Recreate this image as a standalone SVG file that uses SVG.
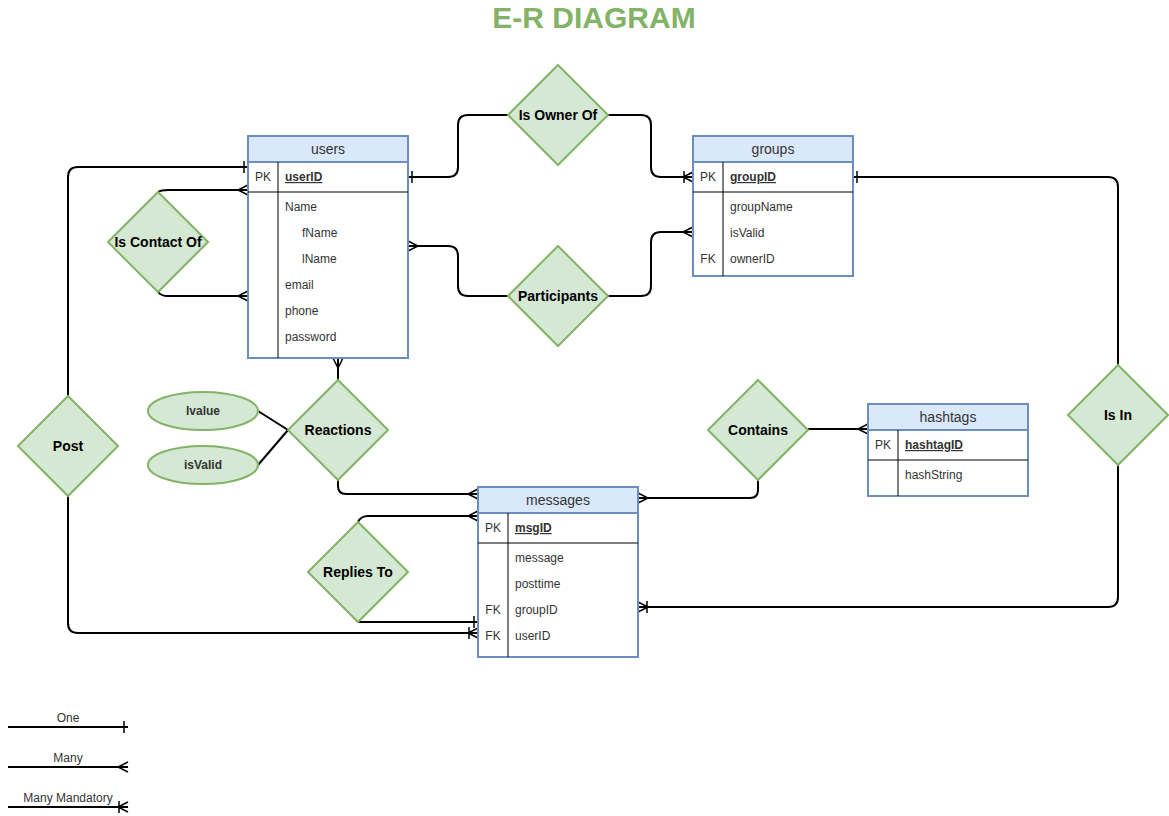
<svg xmlns="http://www.w3.org/2000/svg" width="1169" height="816" viewBox="0 0 1169 816">
<style>
text{font-family:"Liberation Sans",Arial,sans-serif;fill:#000}
.ent{fill:#fff;stroke:#6c8ebf;stroke-width:2}
.hdr{fill:#dae8fc;stroke:#6c8ebf;stroke-width:2}
.sep{stroke:#000;stroke-width:1}
.ht{font-size:14px;text-anchor:middle;fill:#333}
.f{font-size:12px;fill:#333}
.pk{font-size:12px;font-weight:bold;text-decoration:underline;fill:#333}
.k{font-size:12px;text-anchor:middle;fill:#333}
.rel{fill:#d5e8d4;stroke:#82b366;stroke-width:2}
.rt{font-size:14px;font-weight:bold;text-anchor:middle}
.at{font-size:12px;text-anchor:middle;fill:#333}
.c{fill:none;stroke:#000;stroke-width:2}
.lg{font-size:12px;text-anchor:middle;fill:#333}
</style>
<defs>
<marker id="one" markerUnits="userSpaceOnUse" viewBox="-14 -8 16 16" refX="0" refY="0" markerWidth="16" markerHeight="16" orient="auto" overflow="visible">
<path d="M-4,-6 L-4,6" fill="none" stroke="#000" stroke-width="1.5"/>
</marker>
<marker id="many" markerUnits="userSpaceOnUse" viewBox="-14 -8 16 16" refX="0" refY="0" markerWidth="16" markerHeight="16" orient="auto" overflow="visible">
<path d="M0,-5 L-10,0 L0,5 M-10,0 L0,0" fill="none" stroke="#000" stroke-width="1.5"/>
</marker>
<marker id="mmany" markerUnits="userSpaceOnUse" viewBox="-14 -8 16 16" refX="0" refY="0" markerWidth="16" markerHeight="16" orient="auto" overflow="visible">
<path d="M0,-5 L-10,0 L0,5 M-10,0 L0,0 M-9,-6 L-9,6" fill="none" stroke="#000" stroke-width="1.5"/>
</marker>
</defs>
<rect width="1169" height="816" fill="#fff"/>
<text x="594" y="28" font-size="30" font-weight="bold" text-anchor="middle" style="fill:#82b366">E-R DIAGRAM</text>

<g id="connectors">
<path class="c" d="M508,115 L468,115 Q458,115 458,125 L458,167 Q458,177 448,177 L408,177" marker-end="url(#one)"/>
<path class="c" d="M608,115 L641,115 Q651,115 651,125 L651,167 Q651,177 661,177 L693,177" marker-end="url(#mmany)"/>
<path class="c" d="M508,296 L468,296 Q458,296 458,286 L458,256 Q458,246 448,246 L408,246" marker-end="url(#many)"/>
<path class="c" d="M608,296 L641,296 Q651,296 651,286 L651,242 Q651,232 661,232 L693,232" marker-end="url(#many)"/>
<path class="c" d="M158,192 Q161,190 168,190 L248,190" marker-end="url(#many)"/>
<path class="c" d="M158,292 Q161,296 168,296 L248,296" marker-end="url(#many)"/>
<path class="c" d="M68,396 L68,177 Q68,167 78,167 L248,167" marker-end="url(#one)"/>
<path class="c" d="M68,496 L68,623 Q68,633 78,633 L478,633" marker-end="url(#mmany)"/>
<path class="c" d="M338,380 L338,358" marker-end="url(#many)"/>
<path class="c" d="M338,480 L338,486 Q338,494 346,494 L478,494" marker-end="url(#many)"/>
<path class="c" d="M258,411 L288,430"/>
<path class="c" d="M258,465 L288,430"/>
<path class="c" d="M358,522 Q361,516 368,516 L478,516" marker-end="url(#many)"/>
<path class="c" d="M358,622 Q360,622 366,622 L478,622" marker-end="url(#one)"/>
<path class="c" d="M758,480 L758,490 Q758,498 750,498 L638,498" marker-end="url(#many)"/>
<path class="c" d="M808,429 L868,429" marker-end="url(#many)"/>
<path class="c" d="M1118,365 L1118,187 Q1118,177 1108,177 L853,177" marker-end="url(#one)"/>
<path class="c" d="M1118,465 L1118,597 Q1118,607 1108,607 L638,607" marker-end="url(#mmany)"/>
</g>

<g id="users">
<rect class="ent" x="248" y="136" width="160" height="222"/>
<rect class="hdr" x="248" y="136" width="160" height="26"/>
<text class="ht" x="328" y="154">users</text>
<line class="sep" x1="278" y1="162" x2="278" y2="358"/>
<line class="sep" x1="248" y1="192" x2="408" y2="192"/>
<text class="k" x="263" y="181">PK</text>
<text class="pk" x="285" y="181">userID</text>
<text class="f" x="285" y="211">Name</text>
<text class="f" x="302" y="237">fName</text>
<text class="f" x="302" y="263">lName</text>
<text class="f" x="285" y="289">email</text>
<text class="f" x="285" y="315">phone</text>
<text class="f" x="285" y="341">password</text>
</g>

<g id="groups">
<rect class="ent" x="693" y="136" width="160" height="140"/>
<rect class="hdr" x="693" y="136" width="160" height="26"/>
<text class="ht" x="773" y="154">groups</text>
<line class="sep" x1="723" y1="162" x2="723" y2="276"/>
<line class="sep" x1="693" y1="192" x2="853" y2="192"/>
<text class="k" x="708" y="181">PK</text>
<text class="pk" x="730" y="181">groupID</text>
<text class="f" x="730" y="211">groupName</text>
<text class="f" x="730" y="237">isValid</text>
<text class="k" x="708" y="263">FK</text>
<text class="f" x="730" y="263">ownerID</text>
</g>

<g id="messages">
<rect class="ent" x="478" y="487" width="160" height="170"/>
<rect class="hdr" x="478" y="487" width="160" height="26"/>
<text class="ht" x="558" y="505">messages</text>
<line class="sep" x1="508" y1="513" x2="508" y2="657"/>
<line class="sep" x1="478" y1="543" x2="638" y2="543"/>
<text class="k" x="493" y="532">PK</text>
<text class="pk" x="515" y="532">msgID</text>
<text class="f" x="515" y="562">message</text>
<text class="f" x="515" y="588">posttime</text>
<text class="k" x="493" y="614">FK</text>
<text class="f" x="515" y="614">groupID</text>
<text class="k" x="493" y="640">FK</text>
<text class="f" x="515" y="640">userID</text>
</g>

<g id="hashtags">
<rect class="ent" x="868" y="404" width="160" height="92"/>
<rect class="hdr" x="868" y="404" width="160" height="26"/>
<text class="ht" x="948" y="422">hashtags</text>
<line class="sep" x1="898" y1="430" x2="898" y2="496"/>
<line class="sep" x1="868" y1="460" x2="1028" y2="460"/>
<text class="k" x="883" y="449">PK</text>
<text class="pk" x="905" y="449">hashtagID</text>
<text class="f" x="905" y="479">hashString</text>
</g>

<g id="isOwnerOf"><path class="rel" d="M558,65 L608,115 L558,165 L508,115 Z"/><text class="rt" x="558" y="120">Is Owner Of</text></g>
<g id="participants"><path class="rel" d="M558,246 L608,296 L558,346 L508,296 Z"/><text class="rt" x="558" y="301">Participants</text></g>
<g id="isContactOf"><path class="rel" d="M158,192 L208,242 L158,292 L108,242 Z"/><text class="rt" x="158" y="247">Is Contact Of</text></g>
<g id="reactions"><path class="rel" d="M338,380 L388,430 L338,480 L288,430 Z"/><text class="rt" x="338" y="435">Reactions</text></g>
<g id="contains"><path class="rel" d="M758,380 L808,430 L758,480 L708,430 Z"/><text class="rt" x="758" y="435">Contains</text></g>
<g id="repliesTo"><path class="rel" d="M358,522 L408,572 L358,622 L308,572 Z"/><text class="rt" x="358" y="577">Replies To</text></g>
<g id="post"><path class="rel" d="M68,396 L118,446 L68,496 L18,446 Z"/><text class="rt" x="68" y="451">Post</text></g>
<g id="isIn"><path class="rel" d="M1118,365 L1168,415 L1118,465 L1068,415 Z"/><text class="rt" x="1118" y="420">Is In</text></g>

<g id="lvalue"><ellipse class="rel" cx="203" cy="411" rx="55" ry="19"/><text class="at" x="203" y="415" font-weight="bold">lvalue</text></g>
<g id="isValidAttr"><ellipse class="rel" cx="203" cy="465" rx="55" ry="19"/><text class="at" x="203" y="469" font-weight="bold">isValid</text></g>

<g id="legend">
<text class="lg" x="68" y="722">One</text>
<path class="c" d="M8,727 L128,727" marker-end="url(#one)"/>
<text class="lg" x="68" y="762">Many</text>
<path class="c" d="M8,767 L128,767" marker-end="url(#many)"/>
<text class="lg" x="68" y="802">Many Mandatory</text>
<path class="c" d="M8,807 L128,807" marker-end="url(#mmany)"/>
</g>
</svg>
